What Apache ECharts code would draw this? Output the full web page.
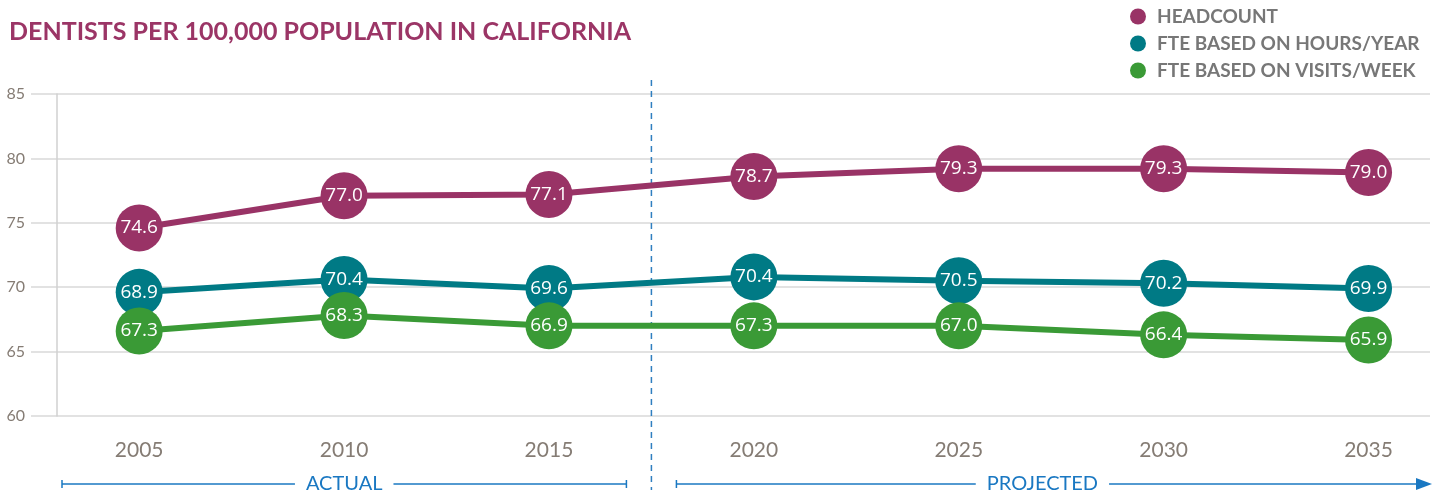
<!DOCTYPE html>
<html>
<head>
<meta charset="utf-8">
<script src="https://cdn.jsdelivr.net/npm/echarts@6/dist/echarts.min.js"></script>
<style>
  html, body { margin: 0; padding: 0; background: #fff; }
  #chart { width: 1443px; height: 494px; }
</style>
</head>
<body>
<div id="chart"></div>
<script>
const years = [2005, 2010, 2015, 2020, 2025, 2030, 2035];

// marker positions as drawn in the source graphic
const headcount = [74.6, 77.1, 77.2, 78.6, 79.2, 79.2, 78.9];
const fteHours = [69.6, 70.6, 69.9, 70.8, 70.5, 70.3, 69.9];
const fteVisits = [66.6, 67.8, 67.0, 67.0, 67.0, 66.3, 65.9];

// numbers printed in the markers
const headcountLabels = ['74.6', '77.0', '77.1', '78.7', '79.3', '79.3', '79.0'];
const fteHoursLabels = ['68.9', '70.4', '69.6', '70.4', '70.5', '70.2', '69.9'];
const fteVisitsLabels = ['67.3', '68.3', '66.9', '67.3', '67.0', '66.4', '65.9'];

const yMin = 60
const yMax = 85
const yStep = 5
const dividerYear = 2017.5

const COLORS = {
  headcount: '#993366',
  hours: '#007a85',
  visits: '#3a9a36'
}
const FONT = 'Lato, "Open Sans", sans-serif'
const BLUE = '#1a78c2'

const chart = echarts.init(document.getElementById('chart'))

function makeSeries(name, values, labels, color) {
  return {
    name,
    type: 'line',
    data: years.map((year, i) => [year, values[i]]),
    symbol: 'circle',
    symbolSize: 47,
    lineStyle: { width: 6, color },
    itemStyle: { color },
    label: {
      show: true,
      position: 'inside',
      color: '#fff',
      fontSize: 19,
      fontFamily: '"Open Sans", sans-serif',
      formatter: (p) => labels[p.dataIndex]
    },
    emphasis: { disabled: true },
    animation: false
  }
}

chart.setOption({
  animation: false,
  title: {
    text: 'DENTISTS PER 100,000 POPULATION IN CALIFORNIA',
    left: 4,
    top: 14,
    textStyle: {
      color: '#9b3566',
      fontSize: 25,
      fontWeight: 'bold',
      fontFamily: FONT
    }
  },
  legend: {
    orient: 'vertical',
    left: 1125,
    top: 2,
    icon: 'circle',
    itemWidth: 16,
    itemHeight: 16,
    itemGap: 8,
    textStyle: {
      color: '#777',
      fontSize: 19,
      fontWeight: 'bold',
      fontFamily: FONT,
      padding: [0, 0, 0, 6]
    },
    data: ['HEADCOUNT', 'FTE BASED ON HOURS/YEAR', 'FTE BASED ON VISITS/WEEK']
  },
  grid: {
    left: 31,
    right: 13,
    top: 94,
    bottom: 78,
    containLabel: false
  },
  xAxis: {
    type: 'value',
    min: 2002.36,
    max: 2036.5,
    axisLine: { show: false },
    axisTick: { show: false },
    splitLine: { show: false },
    axisLabel: {
      customValues: years,
      color: '#857c74',
      fontSize: 21,
      fontFamily: FONT,
      margin: 24,
      formatter: (v) => String(v)
    }
  },
  yAxis: {
    type: 'value',
    min: yMin,
    max: yMax,
    interval: yStep,
    offset: -26,
    axisLine: { show: true, lineStyle: { color: '#d0d0d0', width: 1.5 } },
    axisTick: { show: false },
    axisLabel: {
      color: '#857c74',
      fontSize: 16,
      fontFamily: FONT,
      margin: 32
    },
    splitLine: { lineStyle: { color: '#d9d9d9', width: 1.5 } }
  },
  series: [
    makeSeries('HEADCOUNT', headcount, headcountLabels, COLORS.headcount),
    makeSeries('FTE BASED ON HOURS/YEAR', fteHours, fteHoursLabels, COLORS.hours),
    makeSeries('FTE BASED ON VISITS/WEEK', fteVisits, fteVisitsLabels, COLORS.visits)
  ]
})

// divider between actual and projected, plus the period brackets underneath
const divX = chart.convertToPixel({ xAxisIndex: 0 }, dividerYear)
const bracketY = 484
const actualStart = 62
const actualEnd = divX - 25
const projStart = divX + 25
const projEnd = 1432
const labelFont = '20px ' + FONT

chart.setOption({
  graphic: [
    {
      type: 'line',
      shape: { x1: divX, y1: 80, x2: divX, y2: 490 },
      style: { stroke: '#2f7fc0', lineWidth: 1.5, lineDash: [6, 5] }
    },
    {
      type: 'line',
      shape: { x1: actualStart, y1: bracketY, x2: actualEnd, y2: bracketY },
      style: { stroke: BLUE, lineWidth: 1.5 }
    },
    {
      type: 'line',
      shape: { x1: actualStart, y1: bracketY - 4, x2: actualStart, y2: bracketY + 4 },
      style: { stroke: BLUE, lineWidth: 1.5 }
    },
    {
      type: 'line',
      shape: { x1: actualEnd, y1: bracketY - 4, x2: actualEnd, y2: bracketY + 4 },
      style: { stroke: BLUE, lineWidth: 1.5 }
    },
    {
      type: 'line',
      shape: { x1: projStart, y1: bracketY, x2: projEnd - 10, y2: bracketY },
      style: { stroke: BLUE, lineWidth: 1.5 }
    },
    {
      type: 'line',
      shape: { x1: projStart, y1: bracketY - 4, x2: projStart, y2: bracketY + 4 },
      style: { stroke: BLUE, lineWidth: 1.5 }
    },
    {
      type: 'polygon',
      shape: { points: [[projEnd - 16, bracketY - 6], [projEnd, bracketY], [projEnd - 16, bracketY + 6]] },
      style: { fill: BLUE }
    },
    {
      type: 'text',
      x: (actualStart + actualEnd) / 2,
      y: bracketY,
      style: {
        text: 'ACTUAL',
        fill: BLUE,
        font: labelFont,
        align: 'center',
        verticalAlign: 'middle',
        backgroundColor: '#fff',
        padding: [0, 11]
      }
    },
    {
      type: 'text',
      x: divX + 391,
      y: bracketY,
      style: {
        text: 'PROJECTED',
        fill: BLUE,
        font: labelFont,
        align: 'center',
        verticalAlign: 'middle',
        backgroundColor: '#fff',
        padding: [0, 11]
      }
    }
  ]
})
</script>
</body>
</html>
